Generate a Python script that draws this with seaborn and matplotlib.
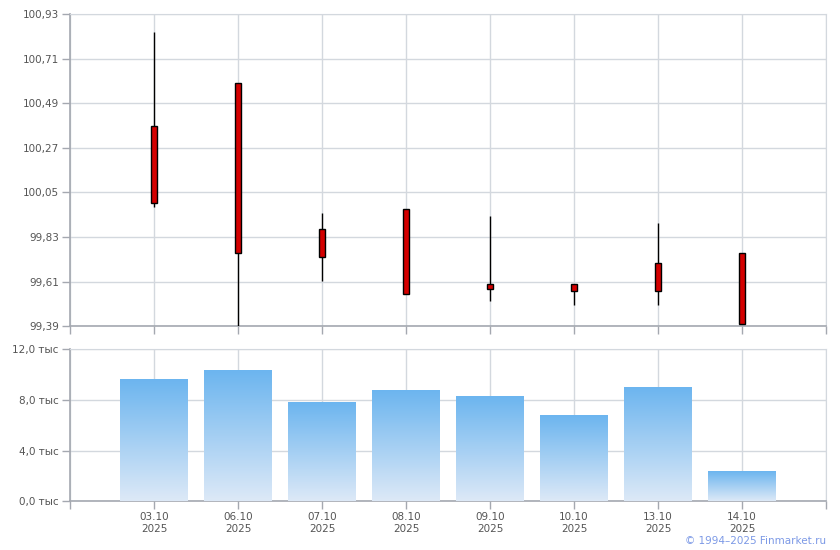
import numpy as np
import pandas as pd
import matplotlib
matplotlib.use("Agg")
import matplotlib.pyplot as plt
import seaborn as sns

# Datos
dates = ["03.10\n2025", "06.10\n2025", "07.10\n2025", "08.10\n2025",
         "09.10\n2025", "10.10\n2025", "13.10\n2025", "14.10\n2025"]
open_ = [100.377, 100.589, 99.869, 99.968, 99.597, 99.597, 99.701, 99.750]
high = [100.841, 100.589, 99.948, 99.968, 99.936, 99.597, 99.898, 99.750]
low = [99.977, 99.390, 99.615, 99.548, 99.516, 99.497, 99.497, 99.400]
close = [99.997, 99.750, 99.731, 99.548, 99.576, 99.566, 99.566, 99.400]
volume = [9.58, 10.29, 7.76, 8.71, 8.23, 6.73, 8.94, 2.31]  # тыс

price_ticks = [99.39, 99.61, 99.83, 100.05, 100.27, 100.49, 100.71, 100.93]
vol_ticks = [0, 4, 8, 12]

df = pd.DataFrame({"date": dates, "volume": volume})

sns.set_style("white")
plt.rcParams["font.family"] = ["DejaVu Sans"]

grid_c = "#d3d8de"
axis_c = "#a4a8b0"
text_c = "#555555"

fig = plt.figure(figsize=(8.4, 5.5), dpi=100)
ax1 = fig.add_axes([0.0833, 0.4067, 0.9, 0.5678])
ax2 = fig.add_axes([0.0833, 0.0885, 0.9, 0.2764])

x = np.arange(len(dates))

# Velas
for i in range(len(dates)):
    ax1.vlines(x[i], low[i], high[i], color="black", lw=1, zorder=3)
    b0 = min(open_[i], close[i])
    h = abs(open_[i] - close[i])
    ax1.bar(x[i], h, bottom=b0, width=0.075, color="#d40000",
            edgecolor="black", linewidth=1, zorder=4)

ax1.set_xlim(-1, 8)
ax1.set_ylim(99.39, 100.93)
ax1.set_yticks(price_ticks)
ax1.set_yticklabels([f"{v:.2f}".replace(".", ",") for v in price_ticks])
ax1.set_xticks(np.arange(-1, 9))
ax1.set_xticklabels([])

# Volumen
sns.barplot(data=df, x="date", y="volume", ax=ax2, width=0.8,
            color="#7ab8ee", zorder=3)
cmap = matplotlib.colors.LinearSegmentedColormap.from_list(
    "vol", ["#dde9f7", "#6cb5ef"])
grad = np.linspace(0, 1, 256).reshape(-1, 1)
for p in ax2.patches:
    x0, y0 = p.get_x(), p.get_y()
    w, h = p.get_width(), p.get_height()
    p.set_alpha(0)
    ax2.imshow(grad, cmap=cmap, origin="lower", aspect="auto",
               extent=[x0, x0 + w, y0, y0 + h], zorder=3)
ax2.set_xlim(-1, 8)
ax2.set_ylim(0, 12)
ax2.set_yticks(vol_ticks)
ax2.set_yticklabels([f"{v:.1f}".replace(".", ",") + " тыс" for v in vol_ticks])
ax2.set_xticks(np.arange(-1, 9))
ax2.set_xticklabels([""] + dates + [""])
ax2.set_xlabel("")
ax2.set_ylabel("")

for ax in (ax1, ax2):
    ax.grid(True, color=grid_c, lw=1, zorder=0)
    ax.set_axisbelow(True)
    for s in ("top", "right"):
        ax.spines[s].set_visible(True)
        ax.spines[s].set_color(grid_c)
    for s in ("left", "bottom"):
        ax.spines[s].set_color(axis_c)
        ax.spines[s].set_linewidth(1.2)
    ax.tick_params(axis="both", length=6, width=1, color=axis_c,
                   labelsize=7.5, labelcolor=text_c, direction="out",
                   left=True, bottom=True, pad=2)

fig.text(0.983, 0.008, "© 1994–2025 Finmarket.ru", ha="right", va="bottom",
         fontsize=7.5, color="#7c99e6")

fig.savefig("out.png", dpi=100)
